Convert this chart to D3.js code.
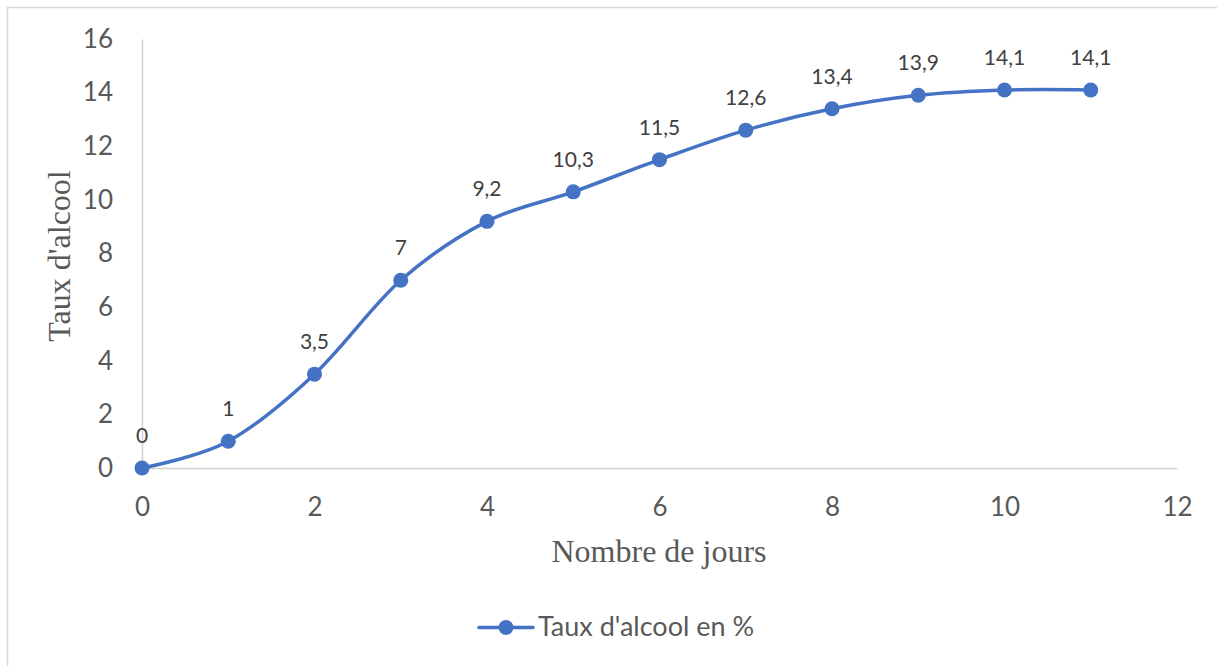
<!DOCTYPE html>
<html>
<head>
<meta charset="utf-8">
<script src="https://cdn.jsdelivr.net/npm/d3@7"></script>
<style>
  html, body { margin: 0; padding: 0; background: #fff; }
  svg { display: block; }
</style>
</head>
<body>
<svg id="chart" width="1217" height="666"></svg>
<script>
// Fermentation: alcohol content per day
const days = [0, 1, 2, 3, 4, 5, 6, 7, 8, 9, 10, 11];
const alcohol = [0, 1, 3.5, 7, 9.2, 10.3, 11.5, 12.6, 13.4, 13.9, 14.1, 14.1];
const labels = ["0", "1", "3,5", "7", "9,2", "10,3", "11,5", "12,6", "13,4", "13,9", "14,1", "14,1"];
const xTicks = [0, 2, 4, 6, 8, 10, 12];
const yTicks = [0, 2, 4, 6, 8, 10, 12, 14, 16];
const seriesName = "Taux d'alcool en %";
const xTitle = "Nombre de jours";
const yTitle = "Taux d'alcool";

const blue = "#4472C4";
const sansFont = "Lato, 'Open Sans', 'Liberation Sans', sans-serif";
const serifFont = "'Liberation Serif', 'DejaVu Serif', serif";

const svg = d3.select("#chart");

// chart frame
svg.append("rect")
  .attr("x", 7.5).attr("y", 7.5)
  .attr("width", 1240).attr("height", 700)
  .attr("fill", "#fff")
  .attr("stroke", "#D9D9D9").attr("stroke-width", 1.5);

const x = d3.scaleLinear().domain([0, 12]).range([142, 1177]);
const y = d3.scaleLinear().domain([0, 16]).range([468, 39]);

// axes
const xAxis = d3.axisBottom(x).tickValues(xTicks).tickSize(0).tickPadding(30);
const yAxis = d3.axisLeft(y).tickValues(yTicks).tickSize(0).tickPadding(29);

const gx = svg.append("g").attr("transform", `translate(0,${y(0)})`).call(xAxis);
const gy = svg.append("g").attr("transform", `translate(${x(0)},0)`).call(yAxis);

[gx, gy].forEach(g => {
  g.select(".domain").attr("stroke", "#D0D0D0").attr("stroke-width", 1.5);
  g.selectAll("text")
    .attr("font-family", sansFont)
    .attr("font-size", 26)
    .attr("fill", "#595959");
});

// axis titles
svg.append("text")
  .attr("x", 659).attr("y", 562)
  .attr("text-anchor", "middle")
  .attr("font-family", serifFont).attr("font-size", 32)
  .attr("fill", "#595959")
  .text(xTitle);

svg.append("text")
  .attr("transform", `translate(70,256) rotate(-90)`)
  .attr("text-anchor", "middle")
  .attr("font-family", serifFont).attr("font-size", 32)
  .attr("fill", "#595959")
  .text(yTitle);

// smoothed series line
const pts = days.map((d, i) => [d, alcohol[i]]);
const line = d3.line()
  .x(d => x(d[0]))
  .y(d => y(d[1]))
  .curve(d3.curveCardinal.tension(0));

svg.append("path")
  .datum(pts)
  .attr("d", line)
  .attr("fill", "none")
  .attr("stroke", blue)
  .attr("stroke-width", 3.5)
  .attr("stroke-linecap", "round");

svg.append("g").selectAll("circle")
  .data(pts)
  .join("circle")
  .attr("cx", d => x(d[0]))
  .attr("cy", d => y(d[1]))
  .attr("r", 7.5)
  .attr("fill", blue);

// data labels
svg.append("g").selectAll("text")
  .data(pts)
  .join("text")
  .attr("x", d => x(d[0]))
  .attr("y", d => y(d[1]) - 25)
  .attr("text-anchor", "middle")
  .attr("font-family", sansFont)
  .attr("font-size", 21)
  .attr("fill", "#404040")
  .text((d, i) => labels[i]);

// legend
const lg = svg.append("g").attr("transform", "translate(479,627.5)");
lg.append("line")
  .attr("x1", 0).attr("x2", 54)
  .attr("stroke", blue).attr("stroke-width", 3.5).attr("stroke-linecap", "round");
lg.append("circle").attr("cx", 27).attr("cy", 0).attr("r", 7.5).attr("fill", blue);
lg.append("text")
  .attr("x", 59).attr("y", 8.5)
  .attr("font-family", sansFont).attr("font-size", 27)
  .attr("fill", "#595959")
  .text(seriesName);
</script>
</body>
</html>
